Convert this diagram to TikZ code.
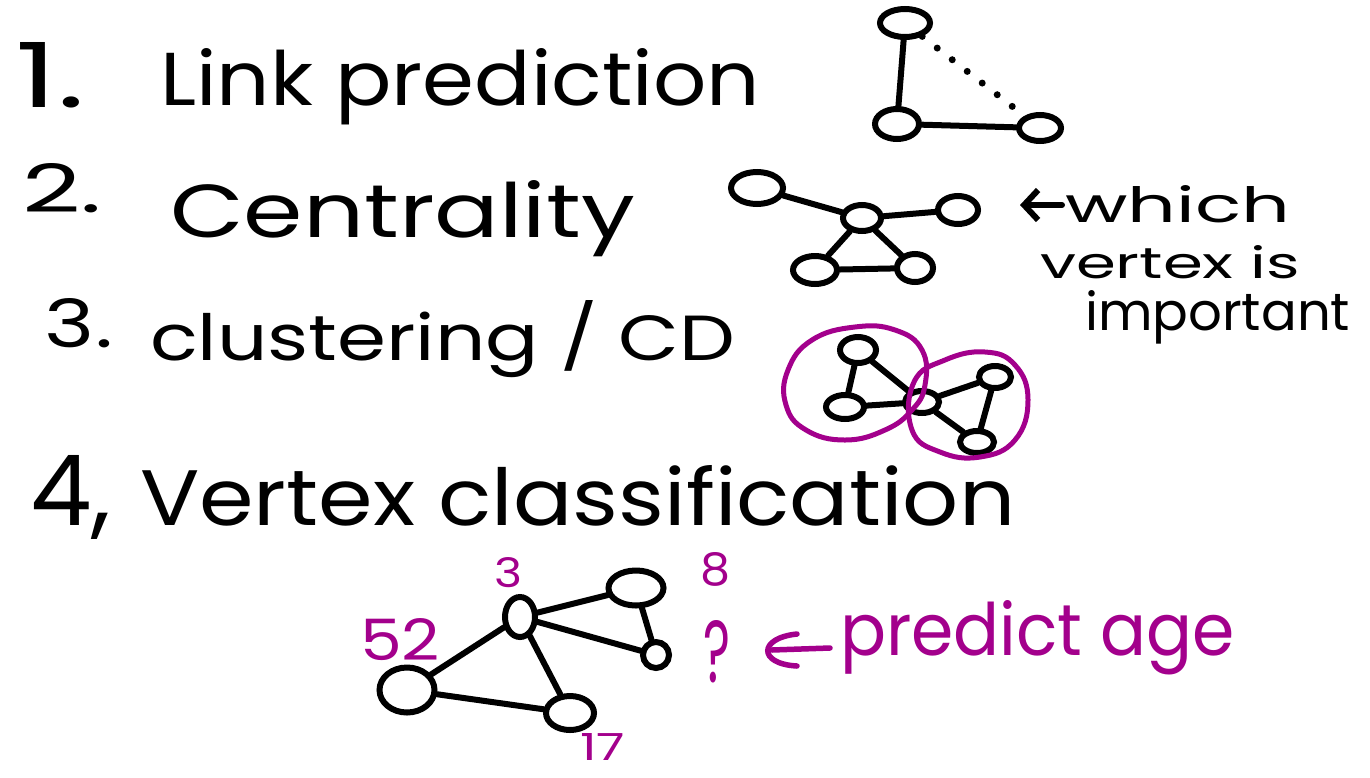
\documentclass[tikz,border=0pt]{standalone}
\usepackage{fontspec}
\setmainfont{Poppins}
\usetikzlibrary{shapes.geometric,arrows.meta}
\definecolor{mag}{RGB}{163,0,140}
\newcommand{\fitto}[3]{\resizebox{#1pt}{#2pt}{#3}}
\newcommand{\fith}[2]{\resizebox{!}{#1pt}{#2}}
\tikzset{
  vtx/.style={ellipse, draw, line width=6pt, inner sep=0pt},
  edge/.style={line width=6pt, line cap=round},
  dotted edge/.style={line width=7pt, line cap=round, dash pattern=on 0pt off 19pt},
  txt/.style={anchor=base west, inner sep=0pt, outer sep=0pt},
  magtxt/.style={txt, text=mag},
  magloop/.style={draw=mag, line width=5pt},
  magline/.style={draw=mag, line width=5.5pt, line cap=round},
}
\begin{document}
\begin{tikzpicture}[x=1pt,y=-1pt]
\useasboundingbox[fill=white] (0,0) rectangle (1370,777);

% ---- headings ----
\node[txt] (n1) at (15,107) {\fitto{70}{65}{1.}};
\node[txt] (h1) at (160,105) {\fitto{600}{57}{Link prediction}};
\node[txt] (n2) at (22,212) {\fitto{80}{49}{2.}};
\node[txt] (h2) at (170,237) {\fitto{465}{57}{Centrality}};
\node[txt] (n3) at (45,347) {\fitto{68}{49}{3.}};
\node[txt] (h3) at (150,360) {\fitto{585}{60}{clustering / CD}};
\node[txt] (n4) at (30,525) {\fith{70}{4,}};
\node[txt] (h4) at (140,525) {\fitto{875}{60}{Vertex classification}};

% ---- graph 1: link prediction ----
\node[vtx, minimum width=50pt, minimum height=28pt] (g1a) at (905,23) {};
\node[vtx, minimum width=44pt, minimum height=30pt] (g1b) at (897,124) {};
\node[vtx, minimum width=42pt, minimum height=26pt] (g1c) at (1040,128) {};
\draw[edge] (g1a) -- (g1b);
\draw[edge] (g1b) -- (g1c);
\draw[dotted edge] (g1a) -- (g1c);

% ---- graph 2: centrality ----
\node[vtx, minimum width=52pt, minimum height=32pt] (g2a) at (757,188) {};
\node[vtx, minimum width=38pt, minimum height=26pt] (g2b) at (862,218) {};
\node[vtx, minimum width=40pt, minimum height=28pt] (g2c) at (958,210) {};
\node[vtx, minimum width=44pt, minimum height=28pt] (g2d) at (815,270) {};
\node[vtx, minimum width=36pt, minimum height=28pt] (g2e) at (915,268) {};
\draw[edge] (g2a) -- (g2b);
\draw[edge] (g2b) -- (g2c);
\draw[edge] (g2b) -- (g2d);
\draw[edge] (g2b) -- (g2e);
\draw[edge] (g2d) -- (g2e);

\node[txt] (w1) at (1065,222) {\fitto{225}{37}{which}};
\node[txt] (w2) at (1040,278) {\fitto{260}{33}{vertex is}};
\node[txt] (w3) at (1085,330) {\fitto{265}{40}{important}};
\coordinate (wtail) at (1062,205);
\coordinate (wtip) at (1020,205);
\draw[edge, -{Straight Barb[length=14pt, width=30pt]}] (wtail) -- (wtip);

% ---- graph 3: clustering ----
\node[vtx, minimum width=36pt, minimum height=26pt] (g3a) at (858,350) {};
\node[vtx, minimum width=38pt, minimum height=24pt] (g3b) at (845,407) {};
\node[vtx, minimum width=34pt, minimum height=22pt] (g3c) at (922,402) {};
\node[vtx, minimum width=32pt, minimum height=22pt] (g3d) at (995,377) {};
\node[vtx, minimum width=34pt, minimum height=22pt] (g3e) at (977,442) {};
\draw[edge] (g3a) -- (g3b);
\draw[edge] (g3a) -- (g3c);
\draw[edge] (g3b) -- (g3c);
\draw[edge] (g3c) -- (g3d);
\draw[edge] (g3c) -- (g3e);
\draw[edge] (g3d) -- (g3e);
\draw[magloop] plot[smooth cycle, tension=0.75] coordinates
  {(922,350) (895,330) (855,327) (812,340) (788,370) (786,405) (806,430) (845,440) (885,430) (912,410) (925,385)};
\draw[magloop] plot[smooth cycle, tension=0.75] coordinates
  {(914,382) (945,360) (985,352) (1015,365) (1028,400) (1015,440) (980,457) (940,452) (912,430)};

% ---- graph 4: vertex classification ----
\node[vtx, minimum width=30pt, minimum height=40pt] (g4a) at (520,617) {};
\node[vtx, minimum width=55pt, minimum height=35pt] (g4b) at (636,588) {};
\node[vtx, minimum width=26pt, minimum height=26pt] (g4c) at (656,655) {};
\node[vtx, minimum width=55pt, minimum height=45pt] (g4d) at (407,690) {};
\node[vtx, minimum width=48pt, minimum height=34pt] (g4e) at (570,713) {};
\draw[edge] (g4a) -- (g4b);
\draw[edge] (g4a) -- (g4c);
\draw[edge] (g4b) -- (g4c);
\draw[edge] (g4a) -- (g4d);
\draw[edge] (g4a) -- (g4e);
\draw[edge] (g4d) -- (g4e);

\node[magtxt] (l3) at (494,587) {\fitto{28}{30}{3}};
\node[magtxt] (l8) at (700,585) {\fitto{30}{33}{8}};
\node[magtxt] (l52) at (360,660) {\fitto{80}{42}{52}};
\node[magtxt] (l17) at (580,760) {\fitto{45}{27}{17}};
\node[magtxt] (lq) at (703,682) {\fitto{27}{62}{?}};
\node[magtxt] (pa) at (840,655) {\fitto{395}{55}{predict age}};
\coordinate (pa0) at (830,648);
\coordinate (pa1) at (772,650);
\draw[magline] (pa0) -- (pa1);
\draw[magline] (797,634) .. controls (758,638) and (758,664) .. (797,666);
\end{tikzpicture}
\end{document}
